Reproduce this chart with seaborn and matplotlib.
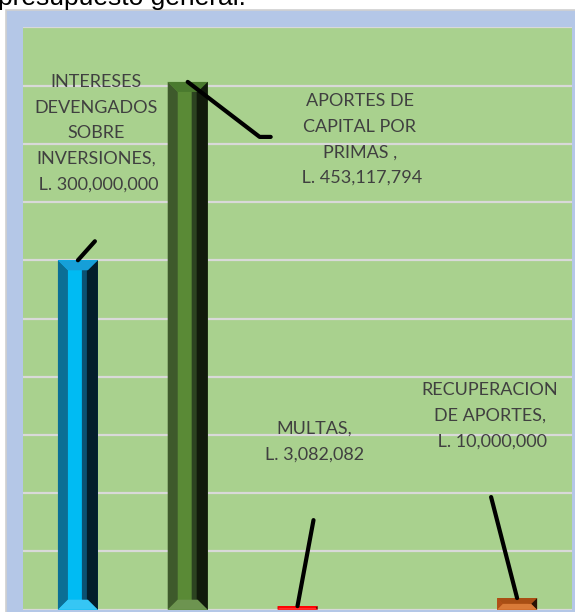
import numpy as np
import matplotlib.pyplot as plt
from matplotlib.patches import Polygon, Rectangle
import seaborn as sns

# data
categories = ["INTERESES DEVENGADOS SOBRE INVERSIONES", "APORTES DE CAPITAL POR PRIMAS",
              "MULTAS", "OTROS", "RECUPERACION DE APORTES"]
values = [300000000, 453117794, 3082082, 0, 10000000]
labels = ["INTERESES\nDEVENGADOS\nSOBRE\nINVERSIONES,\n L. 300,000,000",
          "APORTES DE\nCAPITAL POR\nPRIMAS ,\n L. 453,117,794",
          "MULTAS,\nL. 3,082,082",
          "",
          "RECUPERACION\nDE APORTES,\n L. 10,000,000"]
main_colors = ["#00bbf3", "#5a8a36", "#ff1414", "#a9d18e", "#c55a1c"]
# left, right-mid, right, top, bottom shades for the bevel look
bevel_colors = [["#0b6e95", "#0a5273", "#031e2b", "#169fd8", "#36c6f4"],
                ["#3e5a2b", "#2c4320", "#111a0b", "#4a7a2e", "#6d9450"],
                ["#e00000", "#a00000", "#5a0000", "#ff0000", "#ff3030"],
                ["#a9d18e", "#a9d18e", "#a9d18e", "#a9d18e", "#a9d18e"],
                ["#b04f17", "#7a3510", "#2a1204", "#a84e14", "#d97a38"]]

# label text offsets and leader lines (pixels from bar top)
text_offsets = [(18, 127), (172, -57.5), (17, 164.5), (0, 0), (-27, 182)]
leader_ends = [(17, 19), (83, -55), (16, 86), None, (-26, 101)]

sns.set_style("white")
plt.rcParams['font.family'] = ['Lato', 'DejaVu Sans']

W, H = 575, 612
fig = plt.figure(figsize=(W / 100, H / 100), dpi=100)
fig.patch.set_facecolor("white")
frame = Rectangle((6 / W, -0.01), 1, (H - 10) / H + 0.01, transform=fig.transFigure,
                  facecolor="#b4c7e7", edgecolor="#d0d0d0", lw=1.2, zorder=-10)
fig.patches.append(frame)
fig.text(-2 / W, (H - 5.5) / H, "presupuesto general.", family="Liberation Sans",
         fontsize=19, va="baseline", ha="left", color="black")

ax = fig.add_axes([23 / W, (H - 609.7) / H, 549 / W, 582.4 / H])
ax.set_facecolor("#a9d18e")
ax.set_zorder(2)

sns.barplot(x=categories, y=values, hue=categories, palette=main_colors, order=categories,
            hue_order=categories, width=0.364, saturation=1, legend=False, ax=ax, zorder=3,
            linewidth=0)

ax.set_ylim(0, 500000000)
ax.set_xlim(-0.5, len(categories) - 0.5)
ax.set_yticks(np.arange(0, 500000001, 50000000))
ax.yaxis.grid(True, color="#d9d9d9", lw=1.6)
ax.set_axisbelow(True)
for s in ax.spines.values():
    s.set_visible(False)
ax.tick_params(left=False, bottom=False, labelleft=False, labelbottom=False)
ax.set_xlabel("")
ax.set_ylabel("")

# bevel shading on every bar
fig.canvas.draw()
inv = ax.transData.inverted()
p0 = inv.transform((0, 0))
p1 = inv.transform((10, 10))
bx, by = p1[0] - p0[0], p1[1] - p0[1]
for p in ax.patches:
    x0, w, h = p.get_x(), p.get_width(), p.get_height()
    if h <= 0:
        continue
    i = int(round(x0 + w / 2))
    cl, crm, cr, ct, cb = bevel_colors[i]
    x1 = x0 + w
    b = min(by, h / 2)
    bxx = bx * (b / by)
    polys = [
        ([(x0, 0), (x0 + bxx, b), (x0 + bxx, h - b), (x0, h)], cl),
        ([(x1, 0), (x1 - bxx * 1.6, b), (x1 - bxx * 1.6, h - b), (x1, h)], crm),
        ([(x1, 0), (x1 - bxx * 1.1, b), (x1 - bxx * 1.1, h - b), (x1, h)], cr),
        ([(x0, h), (x1, h), (x1 - bxx, h - b), (x0 + bxx, h - b)], ct),
        ([(x0, 0), (x1, 0), (x1 - bxx, b), (x0 + bxx, b)], cb),
    ]
    for pts, c in polys:
        ax.add_patch(Polygon(pts, closed=True, facecolor=c, edgecolor="none", zorder=4))

for i, (v, lab) in enumerate(zip(values, labels)):
    if lab == "":
        continue
    ax.annotate(lab, xy=(i, v), xytext=text_offsets[i], textcoords="offset pixels",
                ha="center", va="center", fontsize=13, color="#404040",
                linespacing=1.75, zorder=6)
    end = leader_ends[i]
    if i == 1:
        ax.annotate("", xy=(i, v), xytext=end, textcoords="offset pixels",
                    arrowprops=dict(arrowstyle="-", lw=3, color="black", shrinkA=0, shrinkB=0,
                                    connectionstyle="angle,angleA=0,angleB=-37.4,rad=0"),
                    zorder=7)
    else:
        ax.annotate("", xy=(i, v), xytext=end, textcoords="offset pixels",
                    arrowprops=dict(arrowstyle="-", lw=3, color="black", shrinkA=0, shrinkB=0),
                    zorder=7)

fig.savefig("out.png", dpi=100)
